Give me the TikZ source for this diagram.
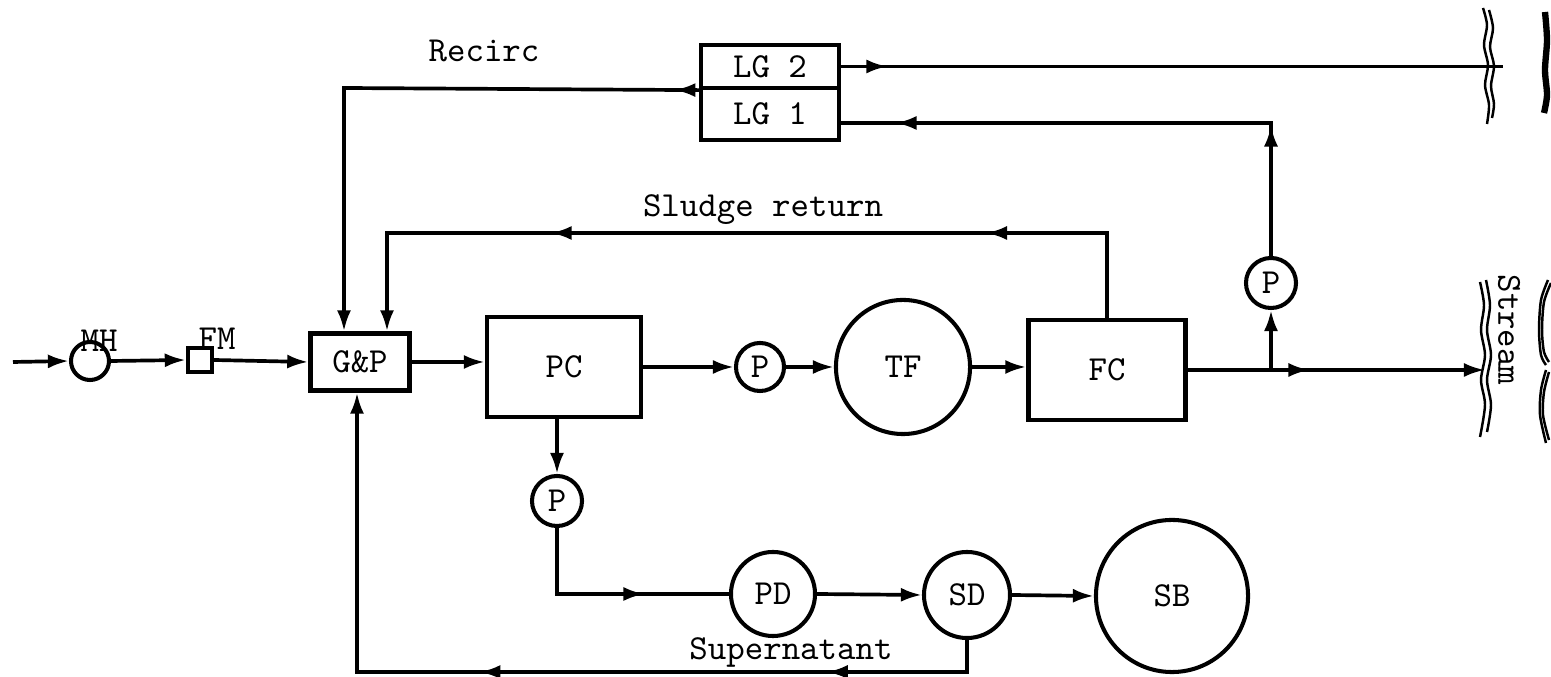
\documentclass[tikz,border=0pt]{standalone}
\usetikzlibrary{arrows.meta,decorations.markings}
\newcommand\arrowhd{\arrow{Latex[length=6pt,width=4pt]}}
\begin{document}
\begin{tikzpicture}[x=0.01cm,y=-0.01cm,
  every node/.style={font=\ttfamily},
  boxn/.style={draw, line width=1.2pt, inner sep=0pt},
  circn/.style={draw, circle, line width=1.15pt, inner sep=0pt},
  flow/.style={line width=1.05pt},
  tipend/.style={-{Latex[length=6pt,width=4pt]}},
  mids/.style={postaction={decorate}, decoration={markings,#1}},
  bank/.style={line width=0.7pt},
  bankb/.style={line width=1.8pt}]
\useasboundingbox (0,0) rectangle (1551,677);

% units
\node[circn, minimum size=0.38cm] (MH) at (90,361) {};
\node (MHl) at (99,341) {MH};
\node[boxn, minimum size=0.24cm] (FM) at (200,360) {};
\node (FMl) at (217,339) {FM};
\node[boxn, minimum width=0.99cm, minimum height=0.57cm] (GP) at (360,362) {G\&P};
\node[boxn, minimum width=1.54cm, minimum height=1.0cm] (PC) at (564,367) {PC};
\node[circn, minimum size=0.48cm] (P1) at (760,367) {P};
\node[circn, minimum size=1.34cm] (TF) at (903,367) {TF};
\node[boxn, minimum width=1.57cm, minimum height=1.0cm] (FC) at (1107,370) {FC};
\node[circn, minimum size=0.5cm] (P3) at (1271,283) {P};
\node[boxn, minimum width=1.38cm, minimum height=0.43cm] (LG2) at (770,66.5) {LG 2};
\node[boxn, minimum width=1.38cm, minimum height=0.52cm] (LG1) at (770,114) {LG 1};
\node[circn, minimum size=0.5cm] (P2) at (557,501) {P};
\node[circn, minimum size=0.84cm] (PD) at (773,594) {PD};
\node[circn, minimum size=0.86cm] (SD) at (967,595) {SD};
\node[circn, minimum size=1.52cm] (SB) at (1172,596) {SB};

% labels
\node (rec) at (484,51) {Recirc};
\node (sr) at (763,210) {Sludge return};
\node (sup) at (791,652) {Supernatant};
\node[rotate=-90] (st) at (1509,330) {Stream};

% helper coordinates
\coordinate (in) at (13,362);
\coordinate (out) at (1485,370);
\coordinate (br) at (1271,370);
\coordinate (lgr) at (839,123);
\coordinate (lgo) at (1503,66.5);
\coordinate (rc) at (344,88);
\coordinate (sl) at (387,233);
\coordinate (gb) at (357,672);

% main line
\draw[flow,tipend] (in) -- (MH.west);
\draw[flow,tipend] (MH.east) -- (FM.west);
\draw[flow,tipend] (FM.east) -- (GP.west);
\draw[flow,tipend] (GP.east) -- (GP.east -| PC.west);
\draw[flow,tipend] (PC.east) -- (P1.west);
\draw[flow,tipend] (P1.east) -- (TF.west);
\draw[flow,tipend] (TF.east) -- (TF.east -| FC.west);
\draw[flow,tipend,mids={mark=at position 0.41 with {\arrowhd}}] (FC.east) -- (out);
\draw[flow,tipend] (br) -- (P3.south);
\draw[flow,mids={mark=at position 0.231 with {\arrowhd}, mark=at position 0.90 with {\arrowhd}}] (P3.north) |- (lgr);
\draw[flow,mids={mark=at position 0.07 with {\arrowhd}}] (LG2.east) -- (lgo);

% recirculation
\draw[flow,tipend,mids={mark=at position 0.041 with {\arrowhd}}] (LG2.south west) -- (rc) -- (rc |- GP.north);
% sludge return
\draw[flow,tipend,mids={mark=at position 0.228 with {\arrowhd}, mark=at position 0.71 with {\arrowhd}}] (FC.north) |- (sl) -- (sl |- GP.north);

% sludge line
\draw[flow,tipend] (P2 |- PC.south) -- (P2.north);
\draw[flow,mids={mark=at position 0.645 with {\arrowhd}}] (P2.south) |- (PD.west);
\draw[flow,tipend] (PD.east) -- (SD.west);
\draw[flow,tipend] (SD.east) -- (SB.west);
% supernatant
\draw[flow,tipend,mids={mark=at position 0.187 with {\arrowhd}, mark=at position 0.564 with {\arrowhd}}] (SD.south) |- (gb) -- (gb |- GP.south);

% stream banks
\draw[bank] plot[smooth] coordinates {(1483,8) (1487,25) (1484,45) (1488,65) (1485,85) (1489,105) (1487,124)};
\draw[bank] plot[smooth] coordinates {(1489,10) (1493,28) (1490,47) (1494,66) (1491,86) (1494,104) (1492,118)};
\draw[bankb] plot[smooth] coordinates {(1545,12) (1547,40) (1545,70) (1547,95) (1544,113)};
\draw[bank] plot[smooth] coordinates {(1480,282) (1484,305) (1481,330) (1485,355) (1481,380) (1485,405) (1480,437)};
\draw[bank] plot[smooth] coordinates {(1486,280) (1490,305) (1487,330) (1491,355) (1487,380) (1491,405) (1487,432)};
\draw[bank] plot[smooth] coordinates {(1548,280) (1541,300) (1539,330) (1541,355) (1546,365)};
\draw[bank] plot[smooth] coordinates {(1551,283) (1544,302) (1542,330) (1544,352) (1549,362)};
\draw[bank] plot[smooth] coordinates {(1546,370) (1541,390) (1540,415) (1546,443)};
\draw[bank] plot[smooth] coordinates {(1549,372) (1544,392) (1543,415) (1549,440)};
\end{tikzpicture}
\end{document}
